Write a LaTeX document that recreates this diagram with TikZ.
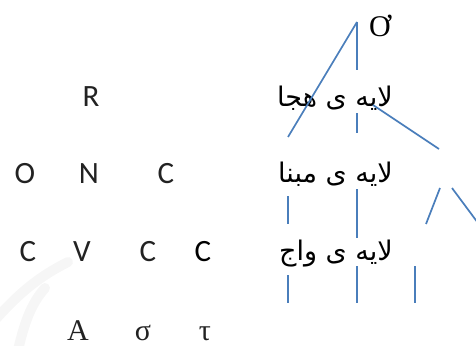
\documentclass[tikz,border=0pt]{standalone}
\usepackage{fontspec}
\setmainfont{Liberation Serif}
\newfontfamily\arabicfont[Script=Arabic]{DejaVu Sans}
\newfontfamily\latinsans{Carlito}
\TeXXeTstate=1
\definecolor{lineblue}{HTML}{4A7EBB}
\definecolor{inkgray}{HTML}{222222}
\begin{document}
\begin{tikzpicture}[x=1pt,y=-1pt,
  sansletter/.style={font=\latinsans\fontsize{31}{33}\selectfont, text=inkgray, inner sep=0pt, anchor=base},
  serifletter/.style={font=\fontsize{30}{32}\selectfont, text=inkgray, inner sep=0pt, anchor=base},
  artext/.style={font=\arabicfont\fontsize{27}{30}\selectfont, inner sep=0pt, anchor=base east},
  link/.style={draw=lineblue, line width=1.7pt},
  watermark/.style={draw=gray!7, line width=10pt, line cap=round}]
\useasboundingbox (0,0) rectangle (476,345);
% faint watermark
\draw[watermark] (-5,320) .. controls (20,292) and (40,276) .. (68,262);
\draw[watermark] (18,350) .. controls (24,325) and (30,305) .. (45,288);

% left letters
\node[sansletter] (r) at (91,106) {R};
\node[sansletter] (o1) at (25,183) {O};
\node[sansletter] (n1) at (89,183) {N};
\node[sansletter] (c1) at (166,183) {C};
\node[sansletter] (c2) at (28,261) {C};
\node[sansletter] (v1) at (82,261) {V};
\node[sansletter] (c3) at (148,261) {C};
\node[sansletter, text=black] (c4) at (203,261) {C};
\node[serifletter] (alpha) at (78,340) {A};
\node[serifletter] (sigma) at (143,340) {σ};
\node[serifletter] (tau) at (205,340) {τ};

% top symbol
\node[serifletter, text=black] (top) at (380,37) {Ơ};

% Arabic labels
\node[artext] (heja) at (393,106) {\beginR لایه ی هجا\endR};
\node[artext] (mabna) at (393,182) {\beginR لایه ی مبنا\endR};
\node[artext] (vaj) at (393,260) {\beginR لایه ی واج\endR};

% line end points
\coordinate (apex) at (357,22);
\coordinate (l1) at (288,137);
\coordinate (v1a) at (357,70);
\coordinate (v2a) at (357,113);
\coordinate (v2b) at (357,133);
\coordinate (d1a) at (373,105);
\coordinate (d1b) at (439,149);
\coordinate (m1a) at (288,196);
\coordinate (m1b) at (288,224);
\coordinate (m2a) at (357,189);
\coordinate (m2b) at (357,238);
\coordinate (m3a) at (440,188);
\coordinate (m3b) at (426,224);
\coordinate (m4a) at (452,188);
\coordinate (m4b) at (478,223);
\coordinate (b1a) at (288,275);
\coordinate (b1b) at (288,303);
\coordinate (b2a) at (357,266);
\coordinate (b2b) at (357,303);
\coordinate (b3a) at (415,266);
\coordinate (b3b) at (415,303);

\draw[link] (apex) -- (l1);
\draw[link] (apex) -- (v1a);
\draw[link] (v2a) -- (v2b);
\draw[link] (d1a) -- (d1b);
\draw[link] (m1a) -- (m1b);
\draw[link] (m2a) -- (m2b);
\draw[link] (m3a) -- (m3b);
\draw[link] (m4a) -- (m4b);
\draw[link] (b1a) -- (b1b);
\draw[link] (b2a) -- (b2b);
\draw[link] (b3a) -- (b3b);
\end{tikzpicture}
\end{document}
